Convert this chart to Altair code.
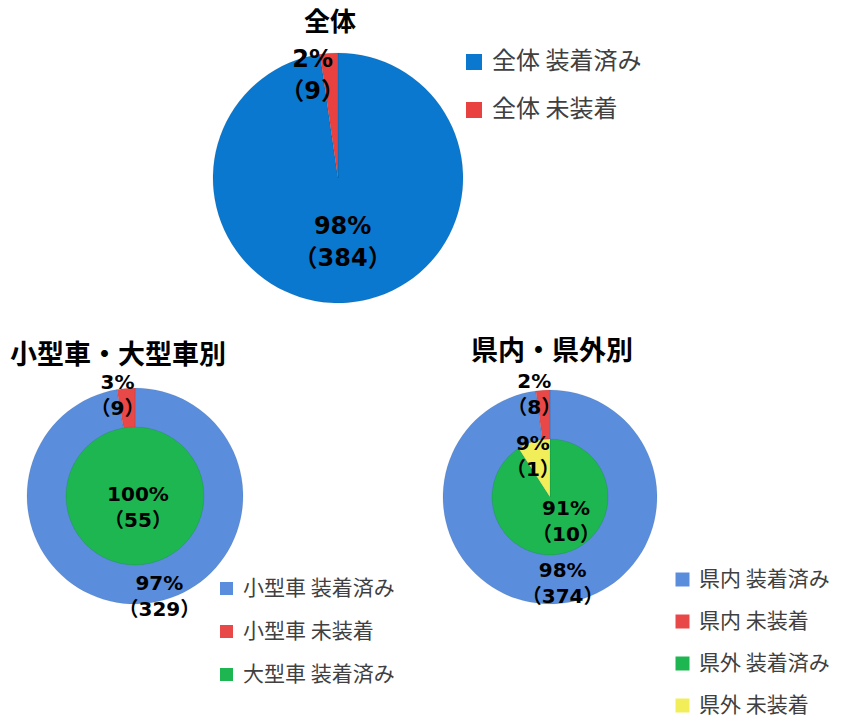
import altair as alt
import pandas as pd

FONT = "Noto Sans CJK JP"
LABEL_FONT = "DejaVu Sans, Noto Sans CJK JP"

# 全体
all_cats = ["全体 装着済み", "全体 未装着"]
all_vals = [384, 9]
all_colors = ["#0A78CE", "#E8413F"]

# 小型車・大型車別
size_outer_cats = ["小型車 装着済み", "小型車 未装着"]
size_outer_vals = [329, 9]
size_inner_cats = ["大型車 装着済み"]
size_inner_vals = [55]
size_colors = ["#5A8EDC", "#E84848", "#1DB650"]

# 県内・県外別
pref_outer_cats = ["県内 装着済み", "県内 未装着"]
pref_outer_vals = [374, 8]
pref_inner_cats = ["県外 装着済み", "県外 未装着"]
pref_inner_vals = [10, 1]
pref_colors = ["#5A8EDC", "#E84848", "#1DB650", "#F2EE5A"]

titles = ["全体", "小型車・大型車別", "県内・県外別"]


def frame(cats, vals):
    total = sum(vals)
    return pd.DataFrame({
        "cat": cats,
        "value": vals,
        "i": list(range(len(cats))),
        "label": [f"{round(v / total * 100)}%\n（{v}）" for v in vals],
    })


def pie(df, cx, cy, outer, inner, domain, colors, legend, labels):
    base = alt.Chart(df).encode(
        theta=alt.Theta("value:Q", stack=True),
        order=alt.Order("i:Q"),
        x=alt.value(cx),
        y=alt.value(cy),
    )
    arc = base.mark_arc(outerRadius=outer, innerRadius=inner,
                        stroke="#00000022", strokeWidth=0.6).encode(
        color=alt.Color("cat:N", scale=alt.Scale(domain=domain, range=colors),
                        legend=legend)
    )
    layers = [arc]
    for (i, r, dx, fs, lh) in labels:
        layers.append(
            base.mark_text(radius=r, dx=dx, dy=-lh / 2 + 1, fontSize=fs,
                           lineHeight=lh, lineBreak="\n", font=LABEL_FONT,
                           fontWeight="bold", color="black", align="center",
                           baseline="middle")
            .encode(text="label:N",
                    opacity=alt.condition(f"datum.i == {i}", alt.value(1), alt.value(0)))
        )
    return alt.layer(*layers)


def legend(x, y, fs, pad, size):
    return alt.Legend(orient="none", legendX=x, legendY=y, title=None,
                      direction="vertical", symbolType="square", symbolSize=size,
                      symbolStrokeWidth=0, labelFontSize=fs, labelFont=FONT,
                      labelColor="#404040", rowPadding=pad, labelOffset=6,
                      labelLimit=0)


def title(t, x, y, align, fs):
    return alt.Chart(pd.DataFrame({"t": [t]})).mark_text(
        font=FONT, fontWeight="bold", fontSize=fs, color="black",
        align=align, baseline="middle"
    ).encode(text="t:N", x=alt.value(x), y=alt.value(y))


size_domain = size_outer_cats + size_inner_cats
pref_domain = pref_outer_cats + pref_inner_cats

p_all = pie(frame(all_cats, all_vals), 330, 170, 125, 0, all_cats, all_colors,
            legend(454, 42, 24, 24, 256),
            [(0, 64, 0, 24, 32), (1, 103, -18, 24, 32)])

p_size_out = pie(frame(size_outer_cats, size_outer_vals), 127, 488, 108, 67,
                 size_domain, size_colors, legend(208, 570, 21, 21, 169),
                 [(0, 100, 16, 20, 26), (1, 101, -9, 20, 26)])
p_size_in = pie(frame(size_inner_cats, size_inner_vals), 127, 488, 69, 0,
                size_domain, size_colors, None,
                [(0, 11, 3, 20, 26)])

p_pref_out = pie(frame(pref_outer_cats, pref_outer_vals), 542, 489, 107, 57,
                 pref_domain, pref_colors, legend(664, 561, 21, 20, 196),
                 [(0, 86, 7, 20, 26), (1, 103, -9, 20, 26)])
p_pref_in = pie(frame(pref_inner_cats, pref_inner_vals), 542, 489, 58, 0,
                pref_domain, pref_colors, None,
                [(0, 25, 9, 20, 26), (1, 43, -5, 20, 26)])

chart = alt.layer(
    p_all, p_size_out, p_size_in, p_pref_out, p_pref_in,
    title(titles[0], 322, 15, "center", 26),
    title(titles[1], 2, 348, "left", 27),
    title(titles[2], 544, 344, "center", 27),
).resolve_scale(
    color="independent", theta="independent", opacity="independent"
).properties(
    width=825, height=709, padding=0,
    autosize=alt.AutoSizeParams(type="none"),
).configure_view(strokeWidth=0)

chart.save("out.html", embed_options={"renderer": "svg", "actions": False})
